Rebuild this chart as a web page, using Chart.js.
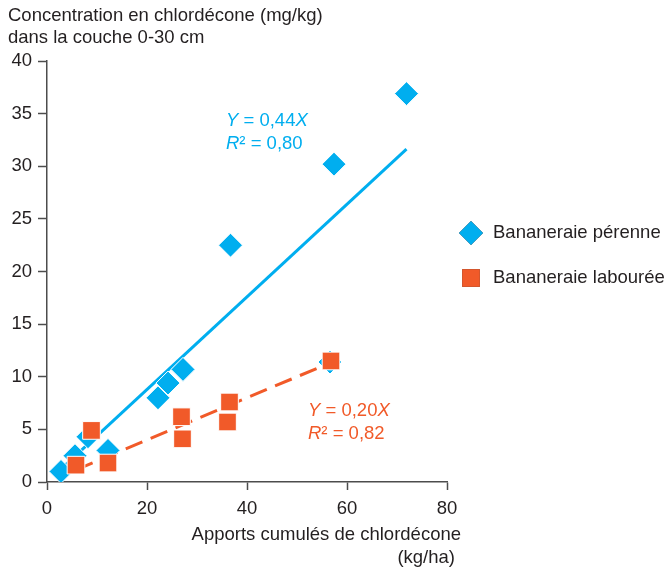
<!DOCTYPE html>
<html>
<head>
<meta charset="utf-8">
<script src="https://cdn.jsdelivr.net/npm/chart.js@4.4.0/dist/chart.umd.min.js"></script>
<style>
  html, body { margin: 0; padding: 0; background: #ffffff; }
  #wrap { width: 666px; height: 569px; }
</style>
</head>
<body>
<div id="wrap"><canvas id="c" width="666" height="569"></canvas></div>
<script>
// Cumulative chlordecone inputs (kg/ha) and soil concentration (mg/kg), 0-30 cm layer
const perenneX  = [2.8, 5.6, 8.2, 12.2, 22.2, 24.2, 27.2, 36.7, 56.6, 57.4, 71.9];
const perenneY  = [1.0, 2.5, 4.3, 3.0, 8.0, 9.4, 10.7, 22.5, 11.4, 30.2, 36.9];
const laboureeX = [5.8, 8.9, 12.2, 26.9, 27.1, 36.1, 36.5, 56.8];
const laboureeY = [1.6, 4.9, 1.8, 6.2, 4.1, 5.7, 7.6, 11.5];

const seriesLabels = ['Bananeraie pérenne', 'Bananeraie labourée'];
const slopes = [0.44, 0.20];          // fitted Y = aX through the origin
const r2Values = [0.80, 0.82];

const xTickValues = [0, 20, 40, 60, 80];
const yTickValues = [0, 5, 10, 15, 20, 25, 30, 35, 40];

const yTitleLines = ['Concentration en chlordécone (mg/kg)', 'dans la couche 0-30 cm'];
const xTitleLines = ['Apports cumulés de chlordécone', '(kg/ha)'];

const BLUE = '#00aeef';
const ORANGE = '#f15a29';
const INK = '#231f20';
const AXIS = '#4d4d4d';
const FONT = '"Liberation Sans", Arial, Helvetica, sans-serif';
const FS = 18.5;

const toPoints = (xs, ys) => xs.map((x, i) => ({ x, y: ys[i] }));
const fitLine = (xs, a) => {
  const lo = Math.min(...xs), hi = Math.max(...xs);
  return [{ x: lo, y: a * lo }, { x: hi, y: a * hi }];
};
const frNum = v => v.toFixed(2).replace('.', ',');

// Draw a line of text made of runs, some in italics
function drawRuns(ctx, runs, x, y, color) {
  ctx.save();
  ctx.fillStyle = color;
  ctx.textBaseline = 'middle';
  ctx.textAlign = 'left';
  let cx = x;
  runs.forEach(r => {
    ctx.font = (r.i ? 'italic ' : '') + FS + 'px ' + FONT;
    ctx.fillText(r.t, cx, y);
    cx += ctx.measureText(r.t).width;
  });
  ctx.restore();
}

const textLayer = {
  id: 'textLayer',
  afterDraw(chart, args, opts) {
    const ctx = chart.ctx;
    const xs = chart.scales.x, ys = chart.scales.y;
    ctx.save();
    ctx.font = FS + 'px ' + FONT;
    ctx.fillStyle = INK;
    ctx.textBaseline = 'middle';

    // y axis title, top left
    ctx.textAlign = 'left';
    yTitleLines.forEach((t, i) => ctx.fillText(t, 8, 16 + i * 22));

    // x axis title, right aligned under the axis
    ctx.textAlign = 'right';
    ctx.fillText(xTitleLines[0], xs.right + 14, 535);
    ctx.fillText(xTitleLines[1], xs.right + 8, 558);

    // regression equations
    opts.equations.forEach((eq, k) => {
      const px = xs.getPixelForValue(eq.at[0]);
      const py = ys.getPixelForValue(eq.at[1]);
      drawRuns(ctx, [{ t: 'Y', i: true }, { t: ' = ' + frNum(slopes[k]) }, { t: 'X', i: true }], px, py, eq.color);
      drawRuns(ctx, [{ t: 'R', i: true }, { t: '² = ' + frNum(r2Values[k]) }], px, py + 23, eq.color);
    });

    // legend keys, drawn with the datasets' own point styles
    opts.legend.forEach(item => {
      const ds = chart.data.datasets[item.dataset];
      Chart.helpers.drawPoint(ctx, {
        pointStyle: ds.pointStyle, radius: ds.pointRadius, rotation: 0, borderWidth: 0
      }, item.x, item.y);
      ctx.fillStyle = ds.backgroundColor;
      ctx.fill();
      ctx.fillStyle = INK;
      ctx.textAlign = 'left';
      ctx.font = FS + 'px ' + FONT;
      ctx.fillText(ds.label, item.x + 22, item.y);
    });
    ctx.restore();
  }
};

const axisCommon = {
  grid: { display: true, drawOnChartArea: false, drawTicks: true, tickLength: 9, tickWidth: 1.5, tickColor: AXIS },
  border: { display: true, color: AXIS, width: 1.5 },
  ticks: { color: INK, font: { family: FONT, size: FS }, padding: 5 }
};

new Chart(document.getElementById('c'), {
  type: 'scatter',
  data: {
    datasets: [
      {
        label: seriesLabels[0], data: toPoints(perenneX, perenneY), order: 2,
        pointStyle: 'rectRot', pointRadius: 12, pointHoverRadius: 12,
        backgroundColor: BLUE, borderColor: '#ffffff', pointBorderWidth: 1
      },
      {
        label: seriesLabels[1], data: toPoints(laboureeX, laboureeY), order: 1,
        pointStyle: 'rect', pointRadius: 12.5, pointHoverRadius: 12.5,
        backgroundColor: ORANGE, borderColor: '#ffffff', pointBorderWidth: 1
      },
      {
        type: 'line', label: 'fit-perenne', data: fitLine(perenneX, slopes[0]), order: 4,
        borderColor: BLUE, borderWidth: 3, pointRadius: 0, fill: false
      },
      {
        type: 'line', label: 'fit-labouree', data: fitLine(laboureeX, slopes[1]), order: 3,
        borderColor: ORANGE, borderWidth: 3, borderDash: [18, 9], pointRadius: 0, fill: false
      }
    ]
  },
  options: {
    responsive: false,
    devicePixelRatio: 1,
    animation: false,
    layout: { padding: { top: 61, left: 0, right: 219, bottom: 0 } },
    scales: {
      x: {
        type: 'linear', min: 0, max: 80,
        ...axisCommon,
        grid: { ...axisCommon.grid, tickLength: 8 },
        ticks: { ...axisCommon.ticks, padding: 8 },
        afterBuildTicks: s => { s.ticks = xTickValues.map(v => ({ value: v })); },
        afterFit: s => { s.height = 87; }
      },
      y: {
        type: 'linear', min: 0, max: 40,
        ...axisCommon,
        ticks: { ...axisCommon.ticks, padding: 6 },
        afterBuildTicks: s => { s.ticks = yTickValues.map(v => ({ value: v })); },
        afterFit: s => { s.width = 47; }
      }
    },
    plugins: {
      legend: { display: false },
      tooltip: { enabled: false },
      textLayer: {
        equations: [
          { at: [35.8, 34.3], color: BLUE },
          { at: [52.2, 6.75], color: ORANGE }
        ],
        legend: [
          { dataset: 0, x: 471, y: 233 },
          { dataset: 1, x: 471, y: 278 }
        ]
      }
    }
  },
  plugins: [textLayer]
});
</script>
</body>
</html>
